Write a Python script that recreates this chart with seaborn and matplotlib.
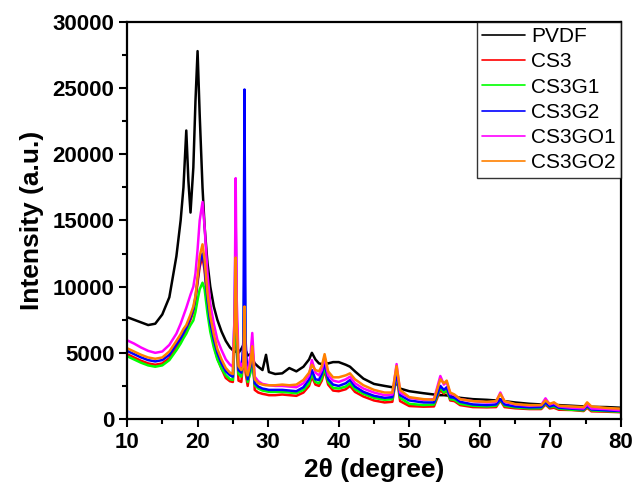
import numpy as np
import pandas as pd
import matplotlib
matplotlib.use("Agg")
import matplotlib.pyplot as plt
import seaborn as sns
from matplotlib.ticker import MultipleLocator
from matplotlib.lines import Line2D

two_theta = [10, 11, 12, 13, 14, 15, 16, 17, 17.6, 18.0, 18.4, 18.7, 19.0, 19.4, 19.7, 20.0, 20.3, 20.7,
             21.0, 21.4, 21.8, 22.3, 22.8, 23.4, 24.0, 24.6, 25.0, 25.25, 25.4, 25.55, 25.8, 26.2, 26.5,
             26.65, 26.8, 27.1, 27.5, 27.75, 28.1, 28.6, 29.2, 29.7, 30.1, 31, 32, 33, 34, 35, 35.8, 36.2,
             36.7, 37.2, 37.6, 38.0, 38.5, 39.2, 40, 41, 41.6, 42.3, 43.5, 45, 46.5, 47.6, 48.2, 48.7, 50,
             52, 53.5, 54.4, 54.9, 55.3, 55.8, 56.4, 57.2, 59, 61, 62.3, 62.9, 63.5, 65, 67, 68.7, 69.3,
             69.9, 70.5, 71.2, 73, 74.7, 75.2, 75.8, 78, 80]

pvdf = [7700, 7500, 7300, 7100, 7200, 7900, 9200, 12300, 15000, 17500, 21800, 18000, 15600, 19000, 24000,
        27800, 23000, 17500, 14500, 11800, 10000, 8500, 7500, 6600, 5900, 5400, 5200, 5100, 5100, 5050,
        5000, 5300, 5600, 5500, 5200, 4800, 4900, 4600, 4200, 3950, 3700, 4850, 3550, 3400, 3450, 3850,
        3600, 3950, 4500, 5000, 4500, 4200, 4150, 4250, 4200, 4300, 4300, 4100, 3950, 3600, 3050, 2650,
        2500, 2400, 2700, 2300, 2100, 1950, 1850, 1800, 1800, 1780, 1750, 1700, 1600, 1500, 1450, 1400,
        1500, 1350, 1250, 1150, 1100, 1150, 1080, 1060, 1050, 1000, 950, 980, 920, 900, 850]

cs3 = [4900, 4650, 4400, 4200, 4100, 4200, 4600, 5400, 5900, 6300, 6700, 7100, 7500, 8100, 9000, 10300,
       11500, 12300, 11200, 8700, 7000, 5600, 4600, 3800, 3100, 2850, 2800, 6000, 10000, 5500, 2900, 2800,
       4500, 8000, 3500, 2500, 4000, 5700, 2200, 2000, 1900, 1850, 1800, 1800, 1850, 1800, 1750, 2000,
       2500, 3200, 2600, 2500, 2900, 3700, 2600, 2150, 2100, 2250, 2500, 2050, 1700, 1400, 1250, 1300,
       3300, 1350, 980, 930, 950, 2200, 1900, 2190, 1400, 1350, 1050, 900, 880, 900, 1400, 900, 810, 750,
       750, 1100, 800, 850, 700, 680, 600, 850, 580, 550, 510]

cs3g1 = [4750, 4500, 4250, 4050, 3950, 4050, 4450, 5200, 5700, 6100, 6450, 6800, 7100, 7450, 8100, 9000,
         9800, 10300, 9800, 8000, 6600, 5400, 4500, 3800, 3300, 3000, 2950, 6000, 11200, 6000, 3400, 3200,
         5000, 12000, 4500, 2800, 3500, 4500, 2550, 2300, 2150, 2100, 2050, 2050, 2050, 2000, 1950, 2200,
         2700, 3400, 2800, 2700, 3100, 3900, 2800, 2350, 2300, 2450, 2700, 2250, 1900, 1600, 1450, 1500,
         3400, 1600, 1150, 1050, 1100, 2400, 2000, 2200, 1500, 1450, 1150, 1000, 950, 1000, 1450, 1000,
         880, 800, 820, 1200, 880, 950, 780, 700, 650, 950, 650, 600, 550]

cs3g2 = [5150, 4900, 4650, 4450, 4350, 4450, 4850, 5650, 6100, 6500, 6900, 7300, 7700, 8300, 9200, 10500,
         11800, 12500, 11500, 9000, 7300, 6000, 5000, 4200, 3600, 3300, 3200, 8000, 15000, 7500, 3700,
         3500, 6000, 24900, 6000, 3000, 4000, 5000, 2700, 2450, 2300, 2250, 2200, 2200, 2200, 2150, 2100,
         2400, 3000, 3700, 3000, 2950, 3400, 4250, 3000, 2600, 2500, 2700, 2950, 2450, 2050, 1750, 1600,
         1650, 3500, 1800, 1400, 1250, 1250, 2500, 2200, 2400, 1650, 1600, 1300, 1100, 1050, 1100, 1500,
         1100, 950, 880, 900, 1250, 950, 1050, 850, 780, 720, 1000, 720, 650, 600]

cs3go1 = [5950, 5700, 5400, 5150, 5000, 5100, 5600, 6450, 7200, 7800, 8400, 8900, 9400, 10000, 11000,
          12800, 15000, 16400, 14500, 11000, 8700, 7200, 6000, 5200, 4500, 4100, 3950, 8000, 18200, 9000,
          4500, 4000, 4300, 6500, 4000, 3600, 4800, 6500, 3200, 2850, 2650, 2600, 2550, 2500, 2500, 2450,
          2400, 2700, 3300, 4450, 3500, 3300, 3700, 4700, 3300, 2900, 2800, 3000, 3200, 2700, 2300, 2000,
          1800, 1850, 4150, 2000, 1600, 1450, 1500, 3250, 2600, 2800, 1900, 1800, 1500, 1350, 1250, 1300,
          2000, 1300, 1100, 1000, 1050, 1560, 1100, 1200, 950, 850, 800, 1100, 800, 750, 650]

cs3go2 = [5350, 5100, 4850, 4650, 4550, 4650, 5100, 5900, 6400, 6800, 7100, 7500, 7900, 8500, 9300, 10700,
          12300, 13200, 12000, 9500, 7800, 6400, 5300, 4500, 3850, 3500, 3400, 7000, 12200, 7000, 4000,
          3700, 4000, 8500, 3800, 3300, 4200, 5500, 3000, 2700, 2600, 2550, 2550, 2550, 2600, 2550, 2600,
          2950, 3500, 4100, 3700, 3600, 4000, 4900, 3600, 3150, 3150, 3300, 3450, 3000, 2550, 2200, 2000,
          2000, 4000, 2200, 1650, 1500, 1450, 3000, 2700, 2900, 2000, 1850, 1500, 1350, 1300, 1350, 1900,
          1350, 1130, 1050, 1050, 1400, 1150, 1260, 1000, 950, 900, 1260, 950, 830, 780]

samples = ["PVDF", "CS3", "CS3G1", "CS3G2", "CS3GO1", "CS3GO2"]
colors = ["#000000", "#FF0000", "#00FF00", "#0000FF", "#FF00FF", "#FF8000"]
series = [pvdf, cs3, cs3g1, cs3g2, cs3go1, cs3go2]

frames = []
for name, vals in zip(samples, series):
    frames.append(pd.DataFrame({"2theta": two_theta, "Intensity": vals, "Sample": name}))
df = pd.concat(frames, ignore_index=True)

sns.set_theme(style="ticks")
plt.rcParams["font.family"] = ["Liberation Sans", "DejaVu Sans"]
plt.rcParams.update({"text.color": "black", "axes.labelcolor": "black",
                     "xtick.color": "black", "ytick.color": "black",
                     "axes.edgecolor": "black"})

fig = plt.figure(figsize=(6.32, 4.98), dpi=100)
ax = fig.add_axes([127 / 632, 1 - 419 / 498, (621 - 127) / 632, (419 - 22) / 498])

sns.lineplot(data=df, x="2theta", y="Intensity", hue="Sample", hue_order=samples,
             palette=dict(zip(samples, colors)), estimator=None, sort=False,
             linewidth=1.8, ax=ax, legend=False)

ax.set_xlim(10, 80)
ax.set_ylim(0, 30000)
ax.xaxis.set_major_locator(MultipleLocator(10))
ax.xaxis.set_minor_locator(MultipleLocator(5))
ax.yaxis.set_major_locator(MultipleLocator(5000))
ax.yaxis.set_minor_locator(MultipleLocator(2500))
ax.tick_params(which="major", direction="out", length=6, width=1.5, labelsize=16, pad=3,
               colors="black")
ax.tick_params(which="minor", direction="out", length=3.5, width=1.5, colors="black")
for lab in ax.get_xticklabels() + ax.get_yticklabels():
    lab.set_fontweight("bold")
for sp in ax.spines.values():
    sp.set_visible(True)
    sp.set_linewidth(1.6)
    sp.set_color("black")

ax.set_xlabel("2θ (degree)", fontsize=19, fontweight="bold", labelpad=4, color="black")
ax.set_ylabel("Intensity (a.u.)", fontsize=19, fontweight="bold", labelpad=6, color="black")

handles = [Line2D([], [], color=c, lw=1.2) for c in colors]
leg = ax.legend(handles, samples, loc="upper right", fontsize=15, frameon=True, fancybox=False,
                edgecolor="black", borderaxespad=0, handlelength=2.05, handletextpad=0.3,
                labelspacing=0.3, borderpad=0.25)
leg.get_frame().set_linewidth(1.0)
for t in leg.get_texts():
    t.set_color("black")

fig.savefig("out.png", dpi=100)
